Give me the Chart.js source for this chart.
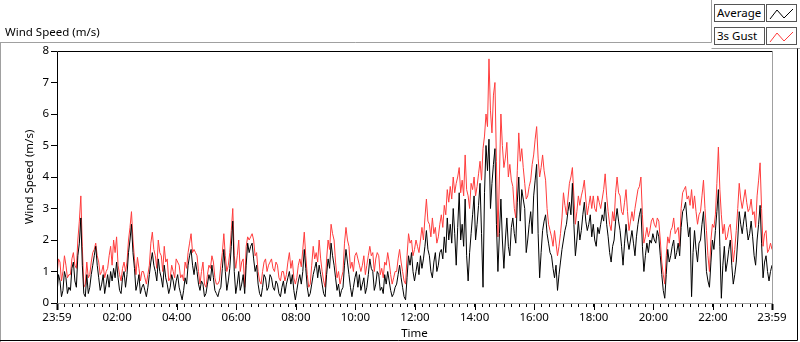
<!DOCTYPE html>
<html>
<head>
<meta charset="utf-8">
<script src="https://cdn.jsdelivr.net/npm/chart.js@4.4.1/dist/chart.umd.min.js"></script>
<style>
  body { margin: 0; background: #fff; }
  #wrap { position: relative; width: 800px; height: 342px; font-family: "Noto Sans", sans-serif; }
  #title { position: absolute; left: 5px; top: 24px; font-size: 11.5px; color: #000; }
  .lbox { position: absolute; left: 714px; width: 47px; height: 16px; border: 1px solid #555;
          background: #fff; font-size: 11.5px; line-height: 16px; padding-left: 2px; box-sizing: content-box; }
  .ibox { position: absolute; left: 766px; width: 29px; height: 16px; border: 1px solid #555; background: #fff; }
</style>
</head>
<body>
<div id="wrap">
  <canvas id="windChart" width="800" height="342"></canvas>
  <div id="title">Wind Speed (m/s)</div>
  <div class="lbox" style="top:4px">Average</div>
  <div class="ibox" style="top:4px"><svg width="29" height="16"><polyline points="3,13 10,4 17,12 26,3" fill="none" stroke="#000" stroke-width="1"/></svg></div>
  <div class="lbox" style="top:27px">3s Gust</div>
  <div class="ibox" style="top:27px"><svg width="29" height="16"><polyline points="3,13 10,4 17,12 26,3" fill="none" stroke="#ff3c3c" stroke-width="1"/></svg></div>
</div>
<script>
// samples every 3 minutes starting at 23:59
const stepMinutes = 3;

const avgSpeed = [
  0.3,0.9,0.7,0.2,0.4,1.0,0.8,0.3,0.5,0.4,1.1,1.3,0.7,0.5,1.5,1.9,2.7,1.2,0.3,0.2,
  0.9,0.3,0.5,0.9,1.2,1.5,1.8,1.2,0.8,0.4,0.6,0.9,0.3,0.6,0.9,0.5,1.0,0.7,1.1,0.8,
  1.3,0.8,0.4,0.3,0.8,1.0,0.5,0.9,1.6,2.0,2.5,1.6,1.1,0.4,0.6,0.9,0.3,0.5,0.6,0.4,
  0.2,0.5,0.9,1.3,1.6,1.2,1.0,0.7,1.4,1.0,0.8,0.5,1.2,0.8,0.6,0.3,0.5,0.9,0.7,0.4,
  0.7,0.9,0.5,0.3,0.1,0.4,0.8,0.6,1.2,1.5,1.7,1.2,0.9,1.3,1.0,0.6,0.4,0.7,0.6,0.2,
  0.3,0.6,0.9,0.7,1.2,0.8,0.4,0.3,0.2,0.4,0.5,1.1,1.7,1.0,0.4,0.7,1.1,1.8,2.6,1.0,
  0.3,0.6,1.0,0.4,0.6,0.9,0.3,1.2,1.9,1.6,1.8,1.9,1.4,1.0,1.2,0.6,0.3,0.2,0.5,0.9,
  0.8,0.4,0.5,0.9,0.8,0.5,0.4,0.7,0.6,0.3,0.2,0.5,0.7,0.3,0.6,0.8,1.0,0.6,0.9,0.4,
  0.1,0.4,0.7,0.9,0.6,1.0,1.7,1.1,0.5,0.2,0.3,0.6,0.9,1.1,1.3,0.8,1.2,0.9,0.6,0.3,
  0.2,0.9,1.4,1.1,1.9,1.5,1.2,0.8,0.4,0.6,0.2,0.4,0.5,1.2,1.7,1.3,0.9,0.5,0.2,0.5,
  0.8,1.0,0.5,0.9,0.4,0.6,0.8,0.3,0.5,0.9,1.4,1.1,1.0,0.4,0.6,1.0,0.9,0.4,0.5,0.3,
  0.9,0.6,1.0,0.7,0.4,0.2,0.3,0.5,0.6,0.9,1.2,0.8,0.5,0.2,0.1,0.8,1.5,1.2,1.6,1.0,
  0.7,1.0,1.3,0.9,1.5,1.1,1.4,1.8,2.3,1.7,1.5,1.0,0.8,1.3,1.6,1.0,1.2,1.6,1.7,1.4,
  2.1,1.6,2.7,2.0,2.5,1.9,3.0,2.2,1.2,2.4,3.5,2.0,2.5,1.8,3.3,1.5,0.7,1.6,2.2,2.8,
  3.4,2.0,2.5,3.1,3.8,2.2,0.5,3.5,5.0,4.2,5.2,3.0,3.8,4.4,4.9,2.5,1.0,2.2,3.3,2.0,
  1.1,2.0,2.7,1.8,1.5,2.4,2.7,2.2,1.9,3.2,4.0,2.6,3.6,3.3,3.0,1.6,2.0,2.5,2.9,2.2,
  3.4,3.9,4.4,2.2,0.8,1.6,2.3,2.6,2.8,2.2,1.9,1.6,1.5,1.1,0.8,1.2,0.4,0.9,1.3,1.7,
  2.0,2.3,2.5,2.9,3.2,2.8,3.8,2.5,1.5,2.0,2.6,2.0,2.3,2.8,3.2,2.6,2.3,2.5,2.8,2.1,
  2.5,2.0,1.8,2.4,2.2,2.5,2.8,2.6,3.2,2.5,2.1,1.6,1.3,1.8,2.0,2.6,3.0,2.6,2.3,1.8,
  1.2,1.9,2.5,2.0,1.7,2.0,2.3,1.9,1.5,2.1,2.5,2.8,3.0,1.8,1.0,1.5,1.9,1.6,2.0,1.9,
  2.2,2.0,1.9,2.3,2.1,1.5,0.9,0.4,0.15,0.9,1.7,1.3,1.5,1.8,2.0,1.4,1.6,1.9,1.5,2.4,
  2.9,3.0,3.2,2.6,2.1,2.4,0.2,1.6,2.3,1.7,1.3,1.9,2.0,2.5,2.9,2.0,1.0,0.7,0.5,1.3,
  2.0,1.7,2.3,2.9,3.6,1.8,0.15,1.2,1.8,1.0,1.3,1.7,2.0,1.2,0.6,0.9,1.3,2.0,2.9,2.5,
  2.2,2.6,2.9,2.4,2.0,2.2,2.6,2.1,1.5,1.2,2.0,2.5,3.1,1.9,0.8,1.3,1.5,1.0,0.7,1.0,1.2
];

const gustSpeed = [
  0.9,1.4,1.3,0.7,1.0,1.5,1.2,0.8,0.9,0.9,1.4,1.6,1.2,1.1,2.0,2.6,3.4,1.8,0.5,0.6,
  1.3,0.8,0.9,1.3,1.6,1.7,1.9,1.5,1.3,0.9,1.0,1.2,0.8,1.0,1.1,1.5,1.8,1.2,2.0,1.6,
  2.1,1.2,0.9,0.7,1.1,1.3,1.0,1.3,2.0,2.4,2.9,2.0,1.4,0.9,1.45,1.1,0.7,1.0,1.0,0.8,
  0.6,0.9,1.2,1.9,2.25,1.7,1.5,1.1,2.0,1.6,1.5,1.0,1.8,1.3,1.4,0.7,0.8,1.2,1.0,0.8,
  1.4,1.3,1.2,0.8,0.9,0.7,1.3,1.1,1.6,1.9,2.2,1.6,1.7,1.6,1.5,1.0,0.6,1.0,1.3,0.6,
  0.5,0.9,1.2,1.1,1.5,1.3,0.8,0.6,0.6,0.7,1.2,1.6,2.2,1.5,1.0,1.2,1.6,2.3,3.0,1.5,
  1.1,1.5,2.0,1.0,1.3,1.4,0.5,1.8,2.1,2.0,2.1,2.2,2.0,1.5,1.6,1.0,0.7,0.6,1.0,1.3,
  1.4,1.0,1.2,1.3,1.4,1.1,1.0,1.3,1.2,0.8,0.7,1.0,1.0,0.7,0.9,1.3,1.6,1.1,1.35,0.8,
  0.6,0.8,1.2,1.4,1.15,1.7,2.25,1.5,0.9,0.5,0.6,1.2,1.8,1.4,1.6,1.3,2.0,1.4,1.0,0.7,
  0.5,1.4,2.0,1.7,2.5,2.2,2.0,1.3,0.8,1.0,0.6,0.8,1.0,1.9,2.4,2.0,1.8,1.1,1.3,1.0,
  1.5,1.6,1.4,1.2,1.0,1.2,1.5,0.9,1.2,1.5,1.8,1.5,1.6,1.0,1.4,1.6,1.5,0.9,1.1,0.8,
  1.3,1.2,1.6,1.3,0.9,0.6,0.8,1.0,1.0,1.4,1.7,1.3,1.0,0.7,0.6,1.5,2.2,1.9,2.0,1.5,
  1.7,2.0,1.8,1.6,2.0,2.4,2.0,2.7,3.3,2.6,2.5,2.1,2.7,2.2,2.4,1.9,2.1,2.5,2.8,2.4,
  3.1,2.8,3.6,3.2,3.7,3.3,4.0,3.5,3.8,4.0,4.3,3.5,3.9,3.4,4.7,3.6,3.4,3.0,3.8,3.6,
  4.0,3.4,3.7,4.1,4.5,3.9,4.9,5.3,6.0,5.6,7.75,6.1,5.4,6.6,7.0,4.5,2.1,4.0,6.0,5.0,
  4.3,4.6,5.1,4.0,4.4,3.9,3.7,3.0,2.7,4.2,5.4,4.5,4.9,4.3,3.8,3.3,3.4,3.7,3.9,4.4,
  4.7,5.2,5.6,4.6,4.0,4.3,4.7,4.2,3.9,3.0,2.5,2.3,2.1,1.8,2.3,1.9,1.5,1.8,2.2,2.7,
  3.5,3.1,2.8,3.3,3.8,4.0,4.3,3.4,2.5,2.9,3.4,3.1,3.4,3.6,3.9,3.3,2.8,3.1,3.4,3.0,
  3.4,3.0,2.9,3.4,3.2,3.0,3.3,3.6,4.1,3.4,2.9,2.5,2.3,2.9,2.6,3.5,4.0,3.5,3.4,2.9,
  2.8,3.2,3.6,2.9,2.3,2.6,2.9,2.6,3.0,3.3,3.6,3.7,4.0,2.8,1.9,2.1,2.4,2.1,2.3,2.6,
  2.7,2.5,2.4,2.7,2.6,2.0,1.3,0.9,0.6,1.5,2.1,1.9,2.3,2.4,2.7,2.2,2.3,2.4,1.8,3.0,
  3.5,3.6,3.7,3.3,3.4,3.1,3.6,3.0,3.4,2.9,2.5,2.8,2.9,3.4,3.9,3.0,2.3,1.5,1.0,2.0,
  2.5,2.4,2.8,3.8,4.95,3.6,2.8,2.2,2.5,2.0,2.1,2.4,2.5,2.0,1.3,1.7,2.3,3.0,3.8,3.3,
  3.0,3.3,3.6,3.2,2.9,3.0,3.3,2.8,2.9,2.4,3.4,3.9,4.45,3.0,1.8,2.2,2.3,1.6,1.7,1.9,1.7
];

// x axis: minutes after 23:59
const tickMinutes = [0, 121, 241, 361, 481, 601, 721, 841, 961, 1081, 1201, 1321, 1440];
const tickLabels = ['23:59','02:00','04:00','06:00','08:00','10:00','12:00','14:00','16:00','18:00','20:00','22:00','23:59'];

const toPoints = arr => arr.map((v, i) => ({ x: i * stepMinutes, y: v }));
const fontSpec = { family: 'Noto Sans', size: 11.5 };

// frame lines and the longer major ticks
const framePlugin = {
  id: 'frame',
  afterDraw(chart) {
    const c = chart.ctx, a = chart.chartArea, xs = chart.scales.x;
    c.save();
    c.lineWidth = 1;
    // outer panel
    c.strokeStyle = '#a0a0a0';
    c.beginPath();
    c.moveTo(0, 42.5); c.lineTo(711.5, 42.5); c.lineTo(711.5, 0);
    c.moveTo(711.5, 48.5); c.lineTo(800, 48.5);
    c.moveTo(0.5, 42.5); c.lineTo(0.5, 342);
    c.stroke();
    c.strokeStyle = '#000';
    c.beginPath();
    c.moveTo(0, 340.5); c.lineTo(797.5, 340.5); c.lineTo(797.5, 48.5);
    c.stroke();
    // plot frame
    const L = Math.round(a.left) + 0.5, T = Math.round(a.top) + 0.5;
    const R = Math.round(a.right) + 0.5, B = Math.round(a.bottom) + 0.5;
    c.strokeStyle = '#000';
    c.beginPath();
    c.moveTo(L, B); c.lineTo(L, T); c.lineTo(R, T);
    c.stroke();
    c.strokeStyle = '#a0a0a0';
    c.beginPath();
    c.moveTo(R, T); c.lineTo(R, B); c.lineTo(L, B);
    c.stroke();
    // major ticks
    c.strokeStyle = '#000';
    tickMinutes.forEach((m, i) => {
      const px = Math.round(xs.getPixelForValue(m)) + 0.5;
      c.lineWidth = (i === 0 || i === tickMinutes.length - 1) ? 2 : 1;
      c.beginPath();
      c.moveTo(px, a.bottom + 1);
      c.lineTo(px, a.bottom + 7);
      c.stroke();
    });
    c.restore();
  }
};

const ctx = document.getElementById('windChart').getContext('2d');
const windChart = new Chart(ctx, {
  type: 'line',
  data: {
    datasets: [{
      label: 'Average',
      data: toPoints(avgSpeed),
      borderColor: '#000000',
      borderWidth: 1,
      pointRadius: 0,
      tension: 0
    }, {
      label: '3s Gust',
      data: toPoints(gustSpeed),
      borderColor: '#ff3c3c',
      borderWidth: 1,
      pointRadius: 0,
      tension: 0
    }]
  },
  plugins: [framePlugin],
  options: {
    responsive: false,
    animation: false,
    events: [],
    layout: { padding: { left: 19, right: 28, top: 51, bottom: 0 } },
    plugins: {
      legend: { display: false },
      tooltip: { enabled: false }
    },
    scales: {
      x: {
        type: 'linear',
        min: 0,
        max: 1440,
        afterBuildTicks(scale) {
          const t = [0];
          for (let m = 16; m < 1440; m += 15) t.push(m);
          t.push(1440);
          scale.ticks = t.map(v => ({ value: v }));
        },
        afterFit(scale) { scale.height = 39; },
        grid: { drawOnChartArea: false, tickLength: 4, color: '#000', tickColor: '#000' },
        border: { display: false },
        ticks: {
          autoSkip: false,
          maxRotation: 0,
          padding: 4,
          color: '#000',
          font: fontSpec,
          callback: v => {
            const k = tickMinutes.indexOf(v);
            return k >= 0 ? tickLabels[k] : '';
          }
        },
        title: {
          display: true,
          text: 'Time',
          color: '#000',
          font: fontSpec,
          padding: { top: 0, bottom: 1 }
        }
      },
      y: {
        min: 0,
        max: 8,
        afterFit(scale) { scale.width = 38; },
        grid: { drawOnChartArea: false, tickLength: 6, color: '#000', tickColor: '#000' },
        border: { display: false },
        ticks: {
          stepSize: 1,
          padding: 2,
          color: '#000',
          font: fontSpec
        },
        title: {
          display: true,
          text: 'Wind Speed (m/s)',
          color: '#000',
          font: fontSpec,
          padding: { top: 4, bottom: 4 }
        }
      }
    }
  }
});
</script>
</body>
</html>
